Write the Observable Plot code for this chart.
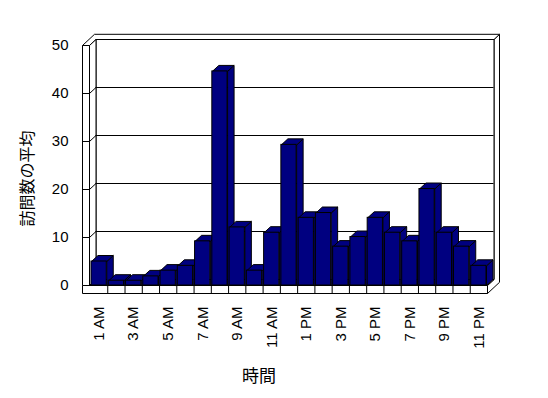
<!DOCTYPE html>
<html>
<head>
<meta charset="utf-8">
<script src="https://cdn.jsdelivr.net/npm/d3@7"></script>
<script src="https://cdn.jsdelivr.net/npm/@observablehq/plot@0.6"></script>
<style>
  html, body { margin: 0; padding: 0; background: #fff; }
</style>
</head>
<body>
<div id="chart"></div>
<script>
// ---- data ----
const hourLabels = ["1 AM","2 AM","3 AM","4 AM","5 AM","6 AM","7 AM","8 AM","9 AM","10 AM","11 AM","12 PM",
                    "1 PM","2 PM","3 PM","4 PM","5 PM","6 PM","7 PM","8 PM","9 PM","10 PM","11 PM"];
const visits = [5.0, 1.0, 1.0, 1.9, 3.1, 4.1, 9.2, 44.6, 12.1, 3.1, 11.0, 29.3,
                14.1, 15.1, 8.1, 10.1, 14.1, 11.0, 9.2, 20.1, 11.0, 8.1, 4.1];
const yTicks = [0, 10, 20, 30, 40, 50];
const xTickLabels = ["1 AM","3 AM","5 AM","7 AM","9 AM","11 AM","1 PM","3 PM","5 PM","7 PM","9 PM","11 PM"];
const yTitle = "訪問数の平均";
const xTitle = "時間";

// ---- layout ----
const W = 548, H = 398, mL = 90, mR = 61, mT = 45, mB = 113;
const n = hourLabels.length;
const xDom = [0.5, n + 0.5], yDom = [0, 50];
const kx = (W - mL - mR) / (xDom[1] - xDom[0]);
const ky = (H - mT - mB) / (yDom[1] - yDom[0]);
const Z0 = [0, 0], D = [6.5, 6], T = [12, 11.2];
const xIn = xDom[0] - 1 / kx, xOut = xDom[0] - 8 / kx, xR = xDom[1];
const floorT = 8 / ky;
const P = (x, y, d) => ({x: x + d[0] / kx, y: y + d[1] / ky});

const table = hourLabels.map((h, i) => ({label: h, i: i + 1, v: visits[i]}));

let pid = 0;
function poly(pts) {
  const id = pid++;
  return [...pts, pts[0]].map(p => ({...p, id}));
}

// walls & floor polygons
const rightEnd = poly([P(xR, 0, Z0), P(xR, 0, D), P(xR, yDom[1], D), P(xR, yDom[1], T), P(xR, -floorT, T), P(xR, -floorT, Z0)]);
const topFace = poly([P(xOut, yDom[1], Z0), P(xIn, yDom[1], Z0), P(xIn, yDom[1], D), P(xR, yDom[1], D), P(xR, yDom[1], T), P(xOut, yDom[1], T)]);
const backWall = poly([P(xIn, 0, D), P(xR, 0, D), P(xR, yDom[1], D), P(xIn, yDom[1], D)]);
const leftInner = poly([P(xIn, 0, Z0), P(xIn, yDom[1], Z0), P(xIn, yDom[1], D), P(xIn, 0, D)]);
const leftFront = poly([P(xOut, 0, Z0), P(xIn, 0, Z0), P(xIn, yDom[1], Z0), P(xOut, yDom[1], Z0)]);
const floorTop = poly([P(xIn, 0, Z0), P(xR, 0, Z0), P(xR, 0, D), P(xIn, 0, D)]);
const floorFront = poly([P(xOut, -floorT, Z0), P(xR, -floorT, Z0), P(xR, 0, Z0), P(xOut, 0, Z0)]);
const walls = [...rightEnd, ...topFace, ...backWall, ...leftInner, ...leftFront, ...floorTop, ...floorFront];

const inner = yTicks.filter(t => t > yDom[0] && t < yDom[1]);
const backGrid = inner.map(t => ({x1: P(xIn, t, D).x, x2: P(xR, t, D).x, y: P(xIn, t, D).y}));
const sideGrid = inner.flatMap(t => { const a = P(xIn, t, Z0), b = P(xIn, t, D); return [{...a, id: "g" + t}, {...b, id: "g" + t}]; });
const frontTicks = inner.map(t => ({x1: xOut, x2: xIn, y: t}));
const dividers = hourLabels.slice(1).map((h, i) => i + 1.5);

// bars
const bx1 = d => d.i - 0.5 + 1 / kx, bx2 = d => d.i + 0.5 - 1 / kx;
const sides = table.flatMap(d => poly([P(bx2(d), 0, Z0), P(bx2(d), d.v, Z0), P(bx2(d), d.v, D), P(bx2(d), 0, D)]));
const tops = table.flatMap(d => poly([P(bx1(d), d.v, Z0), P(bx2(d), d.v, Z0), P(bx2(d), d.v, D), P(bx1(d), d.v, D)]));

const navy = "#000080";
const lineOpts = (fill) => ({x: "x", y: "y", z: "id", fill, stroke: "black", strokeWidth: 1, strokeLinejoin: "miter", strokeLinecap: "butt"});

const xTickVals = xTickLabels.map(l => hourLabels.indexOf(l) + 1);

const chart = Plot.plot({
  width: W, height: H,
  marginLeft: mL, marginRight: mR, marginTop: mT, marginBottom: mB,
  x: {domain: xDom, type: "linear"},
  y: {domain: yDom},
  style: {fontFamily: "'Liberation Sans', Arial, sans-serif", fontSize: "15px", background: "white", color: "black"},
  marks: [
    Plot.line(walls, lineOpts("white")),
    Plot.ruleY(backGrid, {x1: "x1", x2: "x2", y: "y", stroke: "black", strokeWidth: 1}),
    Plot.line(sideGrid, {x: "x", y: "y", z: "id", stroke: "black", strokeWidth: 1}),
    Plot.ruleY(frontTicks, {x1: "x1", x2: "x2", y: "y", stroke: "black", strokeWidth: 1}),
    Plot.ruleX(dividers, {x: d => d, y1: -floorT, y2: 0, stroke: "black", strokeWidth: 1}),
    Plot.line(sides, lineOpts(navy)),
    Plot.line(tops, lineOpts(navy)),
    Plot.rect(table, {x1: d => d.i - 0.5, x2: d => d.i + 0.5, y1: 0, y2: "v", insetLeft: 1, insetRight: 1, fill: navy, stroke: "black", strokeWidth: 1}),
    Plot.axisY(yTicks, {tickSize: 0, tickPadding: 22, label: null, fontSize: 15}),
    Plot.axisX(xTickVals, {tickSize: 0, tickPadding: 21, tickRotate: -90, tickFormat: h => hourLabels[h - 1], label: null, fontSize: 15}),
    Plot.text([yTitle], {frameAnchor: "left", textAnchor: "middle", rotate: -90, dx: -63, dy: 13, fontSize: 16, fontFamily: "'Noto Sans CJK JP', sans-serif"}),
    Plot.text([xTitle], {frameAnchor: "bottom", dx: -30, dy: 96, fontSize: 17, fontFamily: "'Noto Sans CJK JP', sans-serif"})
  ]
});
document.getElementById("chart").appendChild(chart);
</script>
</body>
</html>
